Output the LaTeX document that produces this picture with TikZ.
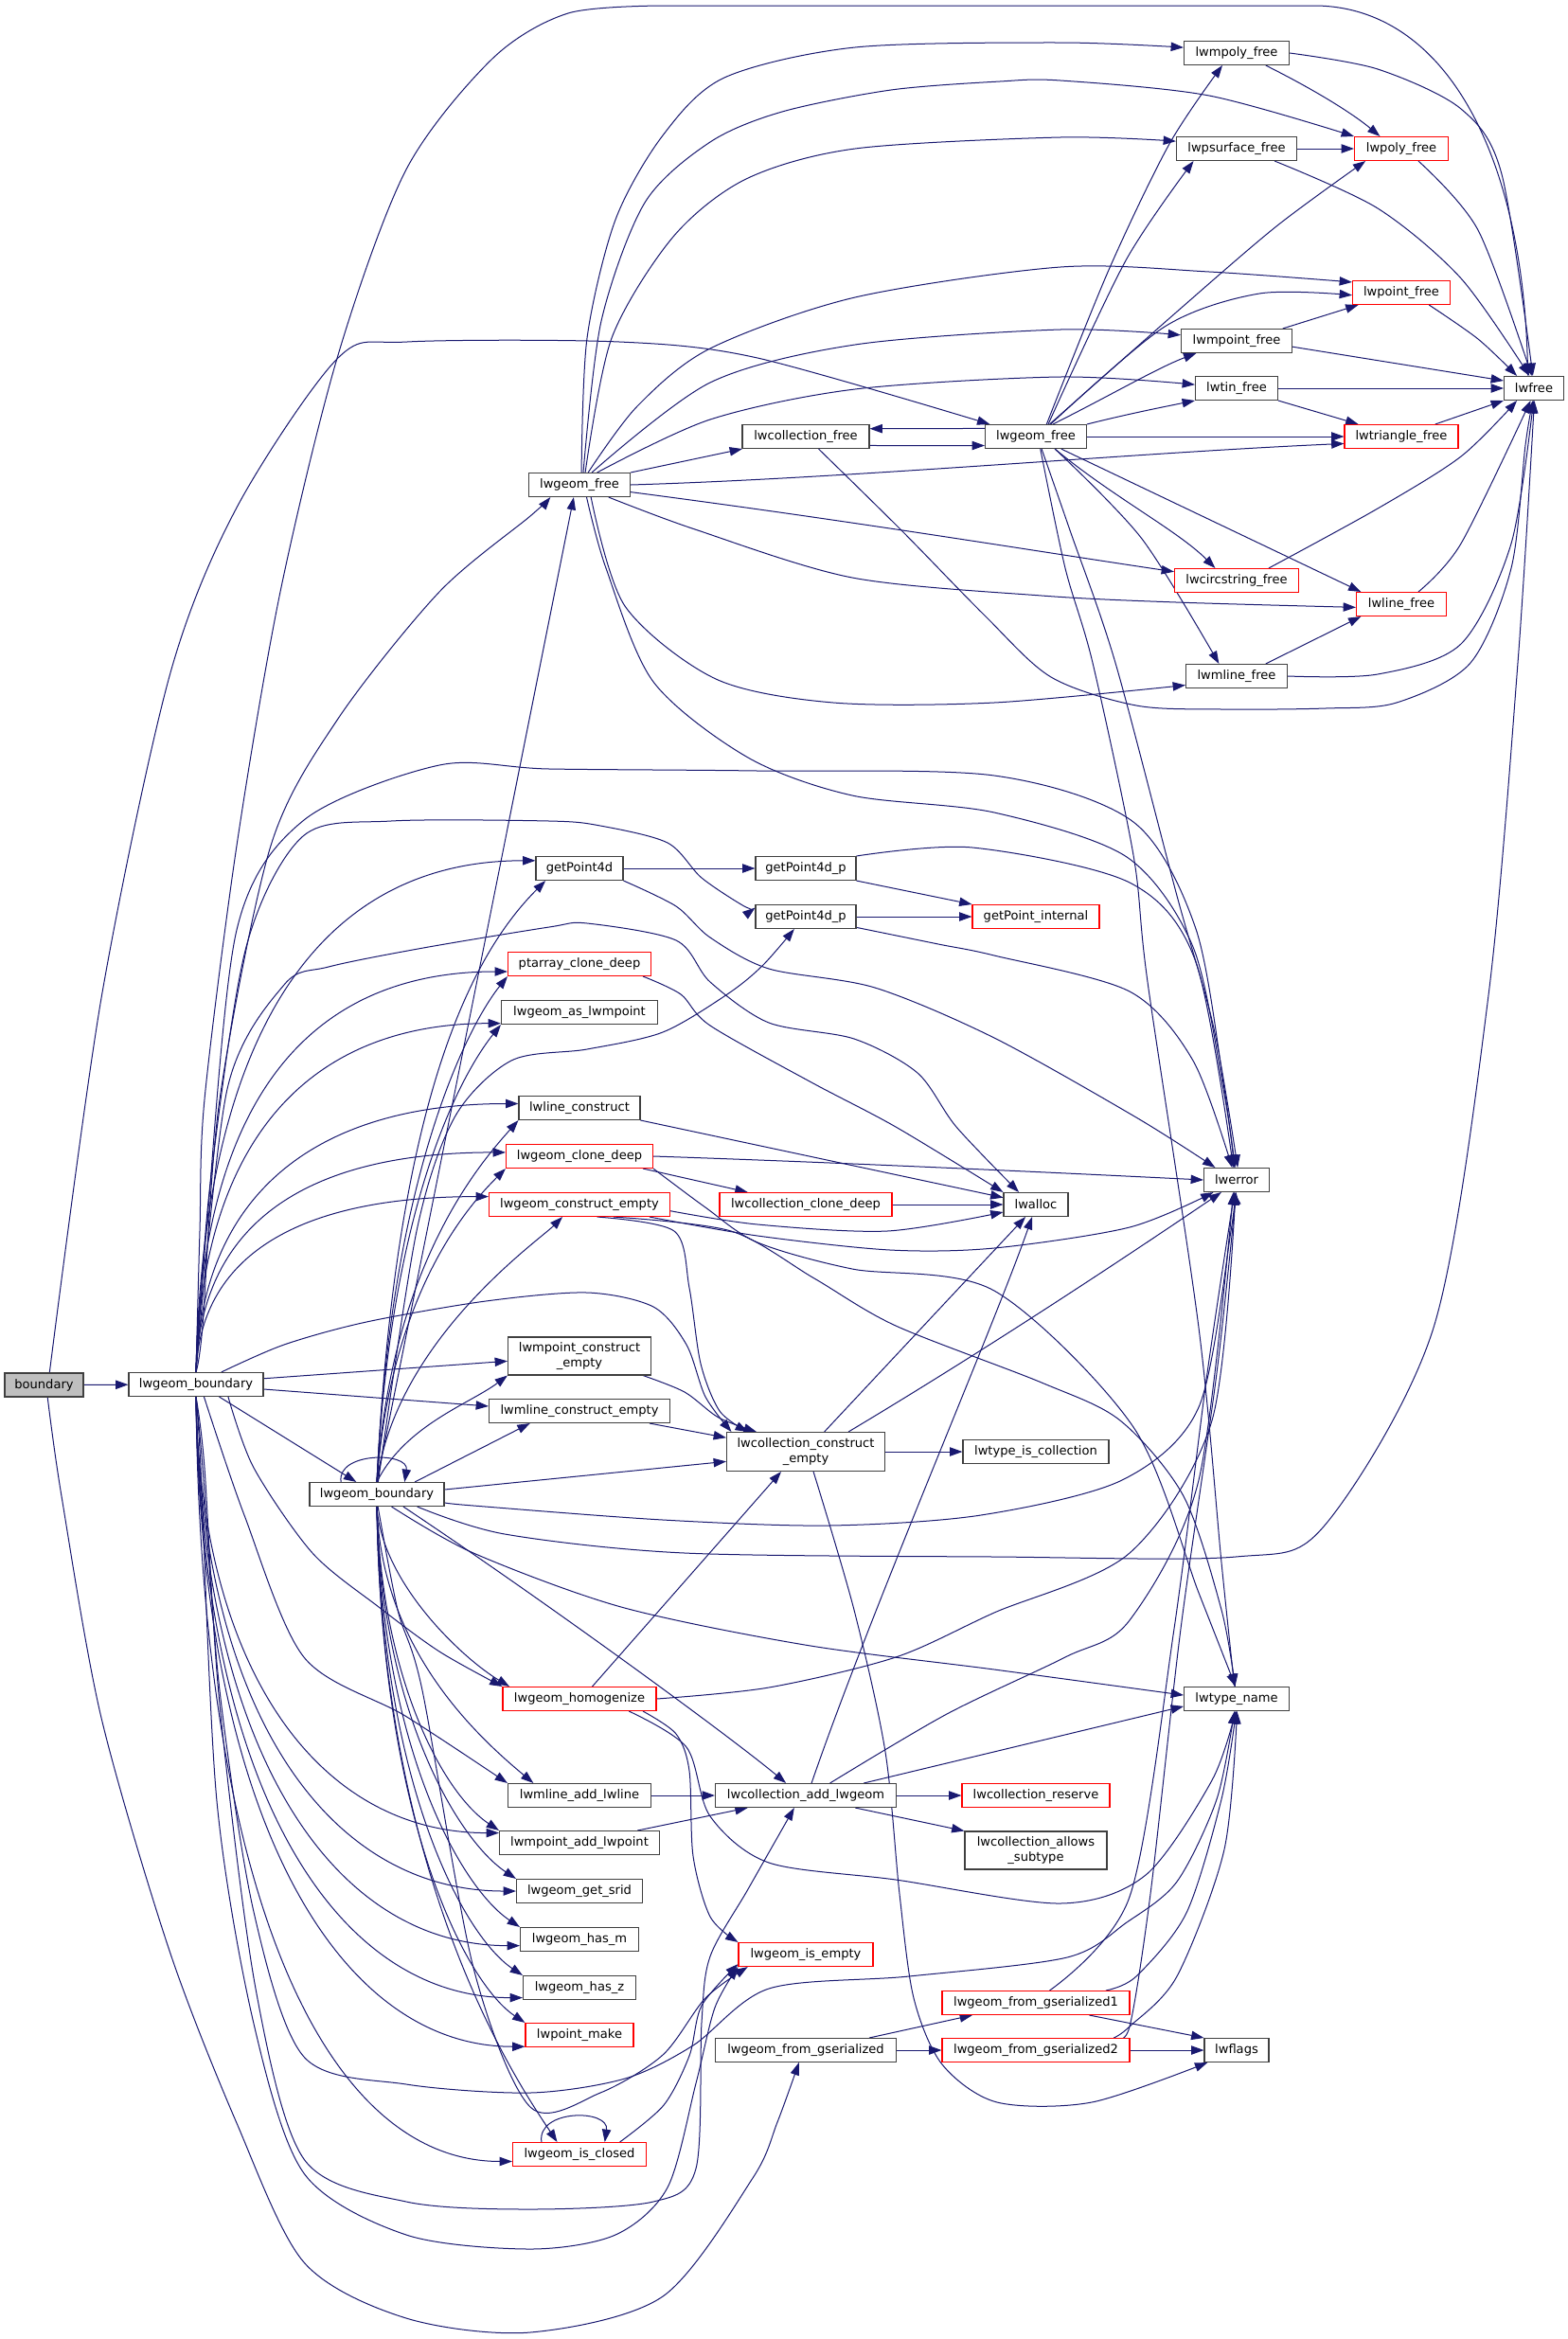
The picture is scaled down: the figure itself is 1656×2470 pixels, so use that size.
\documentclass[tikz,border=0pt]{standalone}
\usepackage{fontspec}
\setmainfont{DejaVu Sans}
\usetikzlibrary{arrows.meta,calc}
\definecolor{edgec}{HTML}{191970}
\definecolor{nodeb}{HTML}{404040}
\definecolor{bgrey}{HTML}{BFBFBF}
\pgfdeclarelayer{bgzero}
\pgfdeclarelayer{edges}
\pgfsetlayers{bgzero,edges,main}
\newcommand{\gnode}[6][nb]{\node[#1, minimum width=#5*0.75pt] (#2) at (#3,#4) {#6};}
\begin{document}
\begin{tikzpicture}[x=0.75pt,y=-0.75pt,
  nb/.style={draw=nodeb, fill=white, line width=0.8pt, inner sep=0pt, minimum height=18.75pt, font=\fontsize{9.8}{11.7}\selectfont, align=center},
  nr/.style={nb, draw=red},
  ng/.style={nb, fill=bgrey},
  e/.style={draw=edgec, line width=0.75pt, -{Triangle[length=10pt,width=7pt]}},
]
\begin{pgfonlayer}{bgzero}
\fill[white] (0,0) rectangle (1656,2470);
\end{pgfonlayer}
\useasboundingbox (0,0) rectangle (1656,2470);

\gnode[ng]{bnd}{46.5}{1462.5}{83}{boundary}
\gnode{lb1}{207}{1462}{142}{lwgeom\_boundary}
\gnode{lb2}{398}{1578}{142}{lwgeom\_boundary}
\gnode{gf1}{612}{512}{107}{lwgeom\_free}
\gnode{cf}{851}{461}{134}{lwcollection\_free}
\gnode{gf2}{1094}{461}{107}{lwgeom\_free}
\gnode{mpoly}{1306}{56}{111}{lwmpoly\_free}
\gnode{psurf}{1306}{157}{127}{lwpsurface\_free}
\gnode[nr]{poly}{1480}{157}{99}{lwpoly\_free}
\gnode[nr]{point}{1480}{309}{103}{lwpoint\_free}
\gnode{mpoint}{1306}{360}{117}{lwmpoint\_free}
\gnode{tin}{1306}{410}{87}{lwtin\_free}
\gnode{lwfree}{1620}{410}{63}{lwfree}
\gnode[nr]{tri}{1480}{461}{120}{lwtriangle\_free}
\gnode[nr]{circ}{1306}{613}{131}{lwcircstring\_free}
\gnode[nr]{line}{1480}{638}{95}{lwline\_free}
\gnode{mline}{1306}{714}{107}{lwmline\_free}
\gnode{gp}{612}{917}{92}{getPoint4d}
\gnode{gpa}{851}{917}{106}{getPoint4d\_p}
\gnode{gpb}{851}{968}{106}{getPoint4d\_p}
\gnode[nr]{gpi}{1094}{968}{134}{getPoint\_internal}
\gnode[nr]{pcd}{612}{1018}{151}{ptarray\_clone\_deep}
\gnode{alm}{612}{1069}{165}{lwgeom\_as\_lwmpoint}
\gnode{lc}{612}{1170}{128}{lwline\_construct}
\gnode[nr]{cd}{612}{1221}{155}{lwgeom\_clone\_deep}
\gnode[nr]{ce}{612}{1272}{191}{lwgeom\_construct\_empty}
\gnode[nr]{lcd}{851}{1272}{182}{lwcollection\_clone\_deep}
\gnode{alloc}{1094}{1272}{68}{lwalloc}
\gnode{err}{1306}{1246}{69}{lwerror}
\gnode[nb,minimum height=30pt]{mpce}{612}{1432}{151}{lwmpoint\_construct\\\_empty}
\gnode{mlce}{612}{1490}{191}{lwmline\_construct\_empty}
\gnode[nb,minimum height=30.75pt]{lcce}{851}{1533}{167}{lwcollection\_construct\\\_empty}
\gnode{tic}{1094}{1533}{154}{lwtype\_is\_collection}
\gnode[nr]{hom}{612}{1794}{162}{lwgeom\_homogenize}
\gnode{tname}{1306}{1794}{111}{lwtype\_name}
\gnode{lal}{612}{1896}{151}{lwmline\_add\_lwline}
\gnode{lcae}{851}{1896}{191}{lwcollection\_add\_lwgeom}
\gnode[nr]{lcr}{1094}{1896}{156}{lwcollection\_reserve}
\gnode{alp}{612}{1946}{169}{lwmpoint\_add\_lwpoint}
\gnode[nb,minimum height=30pt]{lcas}{1094}{1954}{150}{lwcollection\_allows\\\_subtype}
\gnode{srid}{612}{1997}{133}{lwgeom\_get\_srid}
\gnode{hasm}{612}{2048}{125}{lwgeom\_has\_m}
\gnode[nr]{isempty}{851}{2064}{142}{lwgeom\_is\_empty}
\gnode{hasz}{612}{2099}{119}{lwgeom\_has\_z}
\gnode[nr]{gs1}{1094}{2115}{198}{lwgeom\_from\_gserialized1}
\gnode[nr]{pm}{612}{2149}{114}{lwpoint\_make}
\gnode{lgs}{851}{2165}{191}{lwgeom\_from\_gserialized}
\gnode[nr]{gs2}{1094}{2165}{198}{lwgeom\_from\_gserialized2}
\gnode{flags}{1306}{2165}{68}{lwflags}
\gnode[nr]{isclosed}{612}{2275}{141}{lwgeom\_is\_closed}

\begin{pgfonlayer}{edges}
% boundary
\draw[e] (bnd) -- (lb1);
\draw[e] plot[smooth] coordinates {(bnd.66) (107,1054) (179,714) (250,536) (357,378) (430,361) (654,361) (800,378) (gf2.165)};
\draw[e] plot[smooth] coordinates {(bnd.-74) (65,1580) (107,1814) (179,2060) (250,2242) (321,2389) (429,2448) (560,2463) (700,2425) (795,2300) (821,2241) (lgs.-119)};
% lb1 upward
\draw[e] plot[smooth] coordinates {(lb1.north) (211,1300) (216,1161) (250,893) (296,625) (357,375) (429,179) (520,62) (600,14) (700,6)} -- (1390,6) .. controls (1525,8) and (1608,160) .. (lwfree.116);
\draw[e] plot[smooth] coordinates {(lb1.north) (214,1400) (232,1161) (286,893) (357,759) (464,625) (560,545) (gf1.203)};
\draw[e] plot[smooth] coordinates {(lb1.north) (218,1300) (250,982) (321,866) (464,808) (580,812) (800,814) (1050,819) (1197,868) (1263,981) (1293,1150) (err.100)};
\draw[e] plot[smooth] coordinates {(lb1.north) (222,1250) (260,1000) (320,883) (413,867) (580,867) (634,872) (705,890) (741,927) (786,957) (gpb.170)};
\draw[e] (lb1.north) .. controls +(8,-380) and +(-215,0) .. (gp.170);
\draw[e] plot[smooth] coordinates {(lb1.north) (240,1150) (300,1040) (347,1021) (447,1001) (580,979) (620,975) (714,993) (750,1037) (812,1080) (902,1097) (969,1133) (1010,1190) (alloc.144)};
\draw[e] (lb1.north) .. controls +(6,-300) and +(-200,0) .. (pcd.186);
\draw[e] (lb1.north) .. controls +(6,-260) and +(-190,0) .. (alm.188);
\draw[e] (lb1.north) .. controls +(6,-200) and +(-200,0) .. (lc.176);
\draw[e] (lb1.north) .. controls +(5,-165) and +(-200,0) .. (cd.177);
\draw[e] (lb1.north) .. controls +(5,-130) and +(-190,0) .. (ce.175);
\draw[e] plot[smooth] coordinates {(lb1.26) (300,1420) (387,1396) (513,1374) (620,1365) (690,1380) (725,1420) (745,1475) (lcce.165)};
\draw[e] (lb1.5) -- (mpce.184);
\draw[e] (lb1.-4) -- (mlce.177);
\draw[e] (lb1.-28) -- (lb2.149);
% lb1 downward
\draw[e] plot[smooth] coordinates {(lb1.-21) (268,1550) (330,1640) (400,1697) (464,1744) (hom.north west)};
\draw[e] plot[smooth] coordinates {(lb1.-57) (258,1600) (321,1750) (428,1812) (lal.north west)};
\draw[e] (lb1.south) .. controls +(5,290) and +(-190,0) .. (alp.173);
\draw[e] (lb1.south) .. controls +(5,330) and +(-200,0) .. (srid.west);
\draw[e] (lb1.south) .. controls +(5,370) and +(-200,0) .. (hasm.186);
\draw[e] (lb1.south) .. controls +(5,410) and +(-200,0) .. (hasz.190);
\draw[e] (lb1.south) .. controls +(5,440) and +(-200,0) .. (pm.192);
\draw[e] (lb1.south) .. controls +(5,520) and +(-200,0) .. (isclosed.186);
\draw[e] plot[smooth] coordinates {(lb1.south) (214,1550) (232,1785) (268,2019) (321,2172) (429,2201) (560,2210) (660,2195) (732,2160) (812,2100) (960,2087) (1127,2067) (1190,2030) (1243,1987) (1285,1900) (tname.-100)};
\draw[e] plot[smooth] coordinates {(lb1.south) (216,1550) (232,1800) (270,2100) (321,2280) (429,2325) (560,2333) (690,2325) (735,2290) (741,2136) (750,2066) (790,1995) (lcae.-133)};
\draw[e] plot[smooth] coordinates {(lb1.south) (212,1550) (229,1902) (268,2137) (321,2295) (429,2360) (560,2375) (650,2360) (705,2310) (735,2200) (755,2120) (isempty.south west)};
% lb2
\draw[e] (lb2.161) .. controls +(-5,-32) and +(5,-32) .. (lb2.24);
\draw[e] (lb2.north) -- (gf1.-115);
\draw[e] (lb2.north) .. controls +(20,-400) and +(-80,80) .. (gp.-160);
\draw[e] (lb2.north) .. controls +(15,-330) and +(-40,50) .. (pcd.south west);
\draw[e] (lb2.north) .. controls +(15,-300) and +(-40,50) .. (alm.south west);
\draw[e] (lb2.north) .. controls +(15,-230) and +(-40,45) .. (lc.south west);
\draw[e] (lb2.north) .. controls +(15,-200) and +(-40,40) .. (cd.south west);
\draw[e] (lb2.north) .. controls +(20,-150) and +(-25,25) .. (ce.-144);
\draw[e] (lb2.north) .. controls +(30,-60) and +(-40,30) .. (mpce.south west);
\draw[e] (lb2.18) -- (mlce.-166);
\draw[e] plot[smooth] coordinates {(lb2.84) (440,1300) (480,1180) (540,1120) (620,1108) (700,1090) (768,1050) (805,1020) (gpb.-133)};
\draw[e] (lb2.4) -- (lcce.187);
\draw[e] plot[smooth] coordinates {(lb2.-7) (500,1590) (700,1605) (875,1611) (1036,1600) (1185,1563) (1266,1486) (1300,1300) (err.-100)};
\draw[e] plot[smooth] coordinates {(lb2.-17) (533,1620) (723,1640) (1050,1644) (1305,1644) (1398,1612) (1514,1402) (1572,1051) (1603,700) (lwfree.-88)};
\draw[e] plot[smooth] coordinates {(lb2.-40) (500,1640) (656,1697) (850,1737) (1050,1763) (tname.176)};
\draw[e] (lb2.south) .. controls +(5,80) and +(-50,-30) .. (hom.170);
\draw[e] (lb2.south) .. controls +(5,150) and +(-60,-50) .. (lal.165);
\draw[e] (lb2.south) .. controls +(5,180) and +(-60,-40) .. (alp.north west);
\draw[e] (lb2.south) .. controls +(5,220) and +(-60,-40) .. (srid.north west);
\draw[e] (lb2.south) .. controls +(5,260) and +(-60,-40) .. (hasm.north west);
\draw[e] (lb2.south) .. controls +(5,300) and +(-60,-40) .. (hasz.north west);
\draw[e] (lb2.south) .. controls +(5,340) and +(-60,-40) .. (pm.north west);
\draw[e] (lb2.south) .. controls +(5,400) and +(-40,-60) .. (isclosed.151);
\draw[e] (lb2.-25) .. controls +(150,100) and +(-60,-50) .. (lcae.148);
\draw[e] plot[smooth] coordinates {(lb2.-85) (420,1700) (446,1785) (500,2078) (560,2225) (634,2210) (700,2170) (745,2110) (isempty.-168)};
% gf1
\draw[e] (gf1.north east) -- (cf.-169);
\draw[e] (gf1.east) .. controls (900,505) and (1200,478) .. (tri.187);
\draw[e] (gf1.-8) .. controls (900,550) and (1100,583) .. (circ.172);
\draw[e] plot[smooth] coordinates {(gf1.-23) (734,559) (900,610) (1100,629) (1242,636) (line.184)};
\draw[e] plot[smooth] coordinates {(gf1.-47) (660,640) (756,717) (880,742) (1050,742) (mline.190)};
\draw[e] plot[smooth] coordinates {(gf1.-60) (640,600) (690,720) (790,800) (900,840) (1050,858) (1190,905) (1260,1000) (1292,1150) (err.97)};
\draw[e] plot[smooth] coordinates {(gf1.81) (620,357) (650,232) (700,143) (765,82) (903,50) (1120,45) (mpoly.174)};
\draw[e] plot[smooth] coordinates {(gf1.73) (635,339) (681,214) (750,150) (826,118) (941,95) (1056,86) (1120,85) (1277,101) (poly.north west)};
\draw[e] plot[smooth] coordinates {(gf1.65) (646,357) (711,250) (788,189) (903,157) (1120,145) (psurf.173)};
\draw[e] plot[smooth] coordinates {(gf1.55) (673,429) (750,368) (903,314) (1120,282) (1277,287) (point.168)};
\draw[e] plot[smooth] coordinates {(gf1.45) (750,404) (903,364) (1120,348) (mpoint.174)};
\draw[e] plot[smooth] coordinates {(gf1.35) (750,443) (903,411) (1120,398) (tin.175)};
% gf2
\draw[e] (gf2.171) -- (cf.7);
\draw[e] (cf.-8) -- (gf2.190);
\draw[e] plot[smooth] coordinates {(gf2.49) (1171,285) (1235,152) (mpoly.-139)};
\draw[e] plot[smooth] coordinates {(gf2.45) (1189,275) (psurf.-164)};
\draw[e] plot[smooth] coordinates {(gf2.42) (1242,330) (1348,239) (poly.-161)};
\draw[e] plot[smooth] coordinates {(gf2.40) (1230,345) (1330,310) (point.183)};
\draw[e] (gf2.36) .. controls +(60,-30) and +(-40,15) .. (mpoint.-163);
\draw[e] (gf2.north east) .. controls +(40,-10) and +(-40,8) .. (tin.south west);
\draw[e] (gf2.east) -- (tri.west);
\draw[e] (gf2.-33) .. controls +(60,50) and +(-40,-40) .. (circ.150);
\draw[e] (gf2.-26) -- (line.163);
\draw[e] plot[smooth] coordinates {(gf2.-33) (1206,569) (mline.145)};
\draw[e] plot[smooth] coordinates {(gf2.-65) (1130,560) (1178,700) (1243,946) (1282,1086) (err.85)};
\draw[e] plot[smooth] coordinates {(gf2.-70) (1125,600) (1154,700) (1197,903) (1212,1037) (1266,1402) (1290,1650) (tname.100)};
% cf
\draw[e] plot[smooth] coordinates {(cf.-44) (952,560) (1040,650) (1110,715) (1200,745) (1290,749) (1400,748) (1475,742) (1553,700) (1596,600) (1611,470) (lwfree.-95)};
% right cluster
\draw[e] (mpoly.-23) .. controls +(50,25) and +(-30,-25) .. (poly.150);
\draw[e] plot[smooth] coordinates {(mpoly.east) (1455,73) (1543,115) (1586,184) (lwfree.95)};
\draw[e] (psurf.east) -- (poly.west);
\draw[e] plot[smooth] coordinates {(psurf.-18) (1455,220) (1543,294) (lwfree.110)};
\draw[e] plot[smooth] coordinates {(poly.-36) (1561,243) (lwfree.100)};
\draw[e] plot[smooth] coordinates {(point.-24) (1561,358) (lwfree.144)};
\draw[e] (mpoint.15) -- (point.-164);
\draw[e] (mpoint.-6) -- (lwfree.166);
\draw[e] (tin.east) -- (lwfree.west);
\draw[e] (tin.south east) -- (tri.164);
\draw[e] (tri.20) -- (lwfree.south west);
\draw[e] plot[smooth] coordinates {(circ.21) (1455,537) (1543,482) (lwfree.-144)};
\draw[e] plot[smooth] coordinates {(line.36) (1543,574) (lwfree.-105)};
\draw[e] (mline.23) -- (line.-163);
\draw[e] plot[smooth] coordinates {(mline.east) (1455,712) (1543,680) (1596,574) (lwfree.-92)};
% getPoint
\draw[e] (gp.east) -- (gpa.west);
\draw[e] plot[smooth] coordinates {(gp.south east) (714,957) (750,990) (812,1023) (924,1043) (1050,1096) (1200,1180) (err.150)};
\draw[e] (gpa.south east) -- (gpi.north west);
\draw[e] plot[smooth] coordinates {(gpa.north east) (1027,895) (1193,932) (1263,1016) (err.105)};
\draw[e] (gpb.east) -- (gpi.west);
\draw[e] plot[smooth] coordinates {(gpb.-12) (991,997) (1050,1009) (1193,1047) (1260,1120) (err.110)};
% alloc etc
\draw[e] plot[smooth] coordinates {(pcd.-11) (719,1050) (750,1083) (857,1143) (946,1190) (alloc.north west)};
\draw[e] (lc.south east) -- (alloc.168);
\draw[e] (cd.east) .. controls (900,1228) and (1150,1240) .. (err.west);
\draw[e] (cd.-11) -- (lcd.168);
\draw[e] plot[smooth] coordinates {(cd.south east) (745,1275) (800,1312) (900,1340) (1050,1363) (1197,1507) (1266,1682) (tname.95)};
\draw[e] (lcd.east) -- (alloc.west);
\draw[e] plot[smooth] coordinates {(ce.-4) (800,1293) (937,1300) (alloc.193)};
\draw[e] plot[smooth] coordinates {(ce.-10) (800,1305) (940,1320) (1050,1318) (1193,1296) (err.-152)};
\draw[e] plot[smooth] coordinates {(ce.-35) (712,1300) (728,1360) (740,1440) (760,1490) (lcce.161)};
\draw[e] plot[smooth] coordinates {(ce.-20) (772,1300) (860,1350) (946,1400) (1100,1460) (1183,1500) (1250,1580) (1290,1700) (tname.97)};
\draw[e] plot[smooth] coordinates {(mpce.-17) (723,1470) (759,1497) (lcce.158)};
\draw[e] (mlce.-10) -- (lcce.170);
\draw[e] (lcce.east) -- (tic.west);
\draw[e] (lcce.47) -- (alloc.-130);
\draw[e] (lcce.25) .. controls (1050,1420) and (1200,1320) .. (err.-141);
\draw[e] plot[smooth] coordinates {(lcce.-69) (902,1700) (935,1850) (950,2000) (965,2110) (995,2180) (1053,2220) (1153,2220) (flags.-157)};
% homogenize
\draw[e] (hom.44) -- (lcce.-141);
\draw[e] plot[smooth] coordinates {(hom.east) (812,1782) (946,1750) (1050,1703) (1193,1640) (1280,1500) (err.-95)};
\draw[e] plot[smooth] coordinates {(hom.-11) (714,1831) (728,1870) (732,1960) (750,2024) (isempty.north west)};
\draw[e] plot[smooth] coordinates {(hom.-14) (725,1845) (750,1918) (812,1967) (946,1985) (1120,2010) (1210,1980) (1280,1880) (tname.-95)};
% add
\draw[e] (lal.east) -- (lcae.west);
\draw[e] (alp.12) -- (lcae.-168);
\draw[e] (lcae.east) -- (lcr.west);
\draw[e] (lcae.-14) -- (lcas.north west);
\draw[e] (lcae.12) -- (tname.188);
\draw[e] plot[smooth] coordinates {(lcae.27) (1000,1810) (1125,1750) (1193,1711) (1266,1563) (err.-105)};
\draw[e] (lcae.65) .. controls (920,1700) and (1050,1400) .. (alloc.-107);
% closed
\draw[e] (isclosed.162) .. controls +(-5,-35) and +(5,-35) .. (isclosed.26);
\draw[e] plot[smooth] coordinates {(isclosed.17) (701,2223) (728,2171) (741,2118) (isempty.-172)};
% gserialized
\draw[e] (lgs.11) -- (gs1.-169);
\draw[e] (lgs.east) -- (gs2.west);
\draw[e] (gs1.-13) -- (flags.north west);
\draw[e] plot[smooth] coordinates {(gs1.10) (1200,2087) (1253,2020) (1290,1900) (tname.-92)};
\draw[e] plot[smooth] coordinates {(gs1.42) (1193,2003) (1240,1720) (1275,1450) (err.-100)};
\draw[e] (gs2.east) -- (flags.west);
\draw[e] plot[smooth] coordinates {(gs2.9) (1193,2140) (1243,2087) (1293,1953) (tname.-88)};
\draw[e] plot[smooth] coordinates {(gs2.9) (1193,2140) (1215,2000) (1247,1720) (1285,1450) (err.-92)};
\end{pgfonlayer}
\end{tikzpicture}
\end{document}
